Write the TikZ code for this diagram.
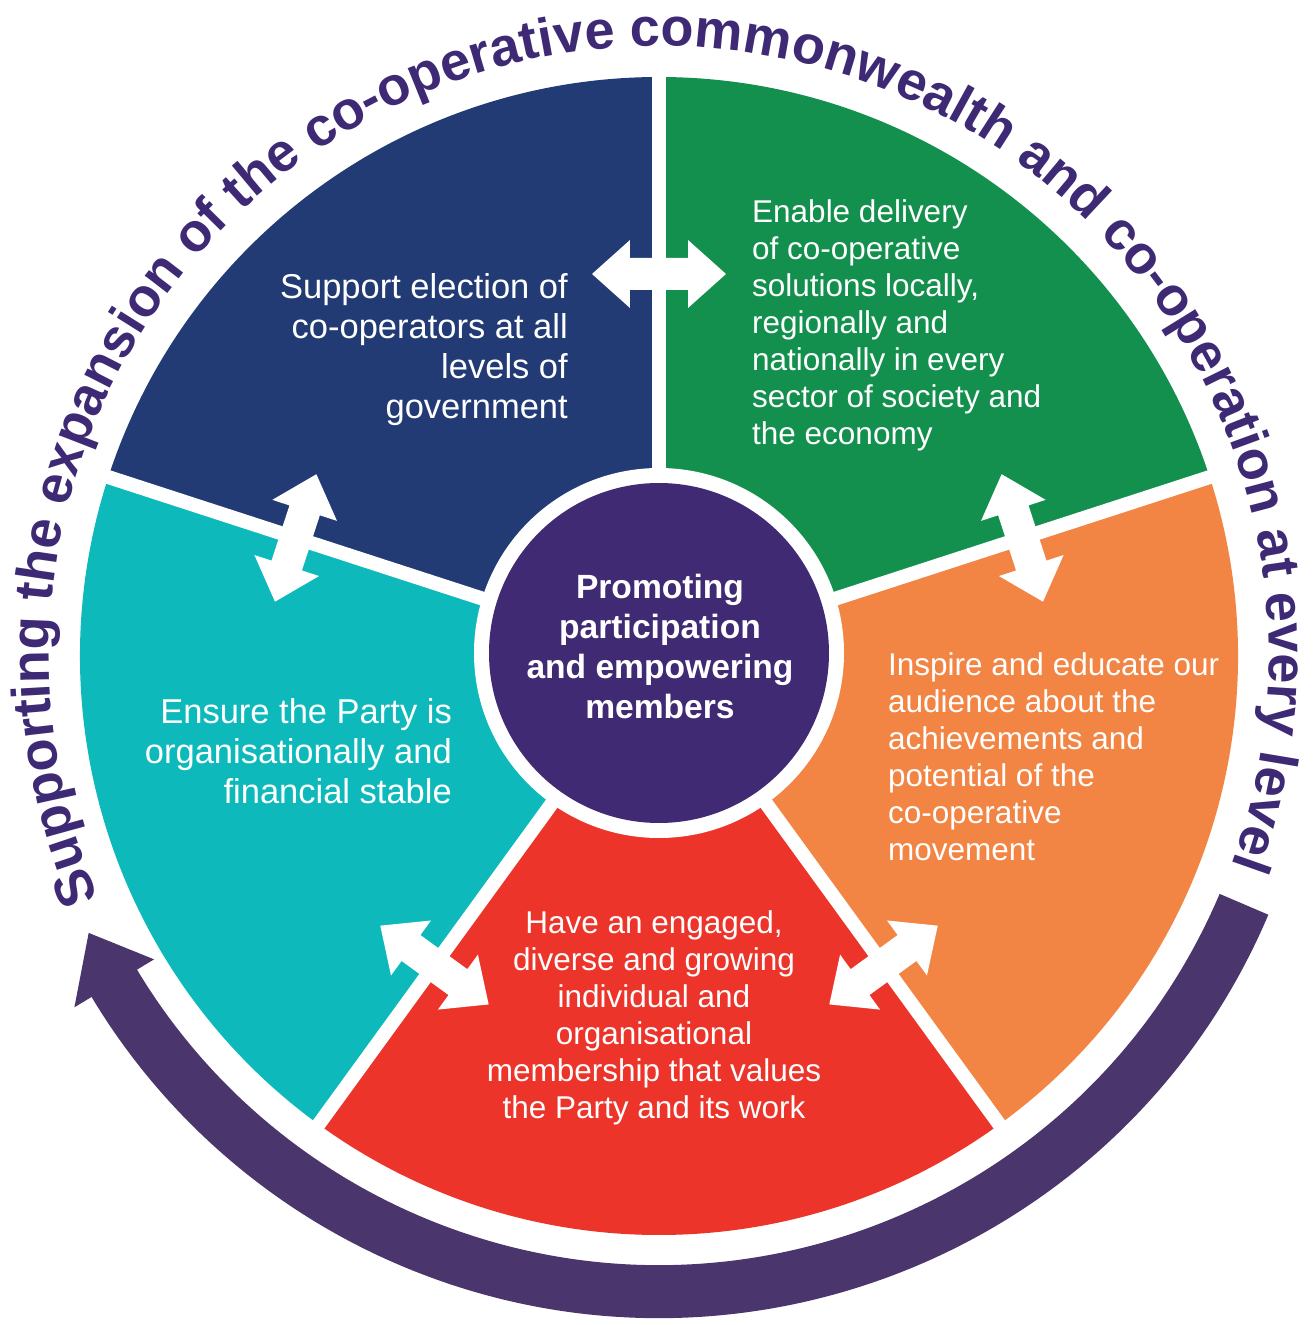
\documentclass[tikz,border=0pt]{standalone}
\usepackage{fontspec}
\setmainfont{Liberation Sans}
\usetikzlibrary{decorations.text}
\definecolor{segblue}{HTML}{223B75}
\definecolor{seggreen}{HTML}{13904D}
\definecolor{segorange}{HTML}{F28444}
\definecolor{segred}{HTML}{EC342A}
\definecolor{segteal}{HTML}{0DB9BA}
\definecolor{hubpurple}{HTML}{3F2A73}
\definecolor{bandpurple}{HTML}{4A356C}
\definecolor{textpurple}{HTML}{3E2A74}
\newcommand{\curvefont}{\fontsize{54}{54}\selectfont\bfseries}
\begin{document}
\begin{tikzpicture}[x=1pt,y=1pt,
  segtext/.style={text=white, inner sep=0pt, font=\fontsize{31.5}{37}\selectfont},
  segtextlarge/.style={text=white, inner sep=0pt, font=\fontsize{34.5}{40}\selectfont},
  hubtext/.style={text=white, inner sep=0pt, font=\fontsize{33.6}{40}\selectfont\bfseries},
  gapline/.style={white, line width=14pt},
  twoway/.style={fill=white},
  band/.style={bandpurple, line width=53pt},
]
\useasboundingbox (-659,-669) rectangle (653,656);
\fill[white] (-659,-669) rectangle (653,656);

% segments
\def\R{579}
\fill[segblue]   (0,0) -- (90:\R)  arc[start angle=90,  end angle=162, radius=\R] -- cycle;
\fill[segteal]   (0,0) -- (162:\R) arc[start angle=162, end angle=234, radius=\R] -- cycle;
\fill[segred]    (0,0) -- (234:\R) arc[start angle=234, end angle=306, radius=\R] -- cycle;
\fill[segorange] (0,0) -- (306:\R) arc[start angle=306, end angle=378, radius=\R] -- cycle;
\fill[seggreen]  (0,0) -- (18:\R)  arc[start angle=18,  end angle=90,  radius=\R] -- cycle;

% gaps
\foreach \a in {90,162,234,306,18} {
  \draw[gapline] (0,0) -- (\a:600);
}
\fill[white] (0,3) circle[radius=185];
\fill[hubpurple] (0,3) circle[radius=170];

% double arrows across the gaps
\foreach \a in {90,162,234,306,18} {
  \begin{scope}[shift={(\a:382)}, rotate=\a-90]
    \fill[twoway] (-67,0) -- (-29,34) -- (-29,16) -- (29,16) -- (29,34) -- (67,0)
      -- (29,-34) -- (29,-16) -- (-29,-16) -- (-29,-34) -- cycle;
  \end{scope}
}

% texts
\node[hubtext, align=center] (thub) at (1,9.5) {Promoting\\participation\\and empowering\\members};
\node[segtextlarge, align=right, anchor=east] (tblue) at (-91,306)
  {Support election of\\co-operators at all\\levels of\\government};
\node[segtext, align=left, anchor=west] (tgreen) at (93,331)
  {Enable delivery\\of co-operative\\solutions locally,\\regionally and\\nationally in every\\sector of society and\\the economy};
\node[segtext, align=left, anchor=west] (torange) at (229,-101)
  {Inspire and educate our\\audience about the\\achievements and\\potential of the\\co-operative\\movement};
\node[segtext, align=center] (tred) at (-5,-362)
  {Have an engaged,\\diverse and growing\\individual and\\organisational\\membership that values\\the Party and its work};
\node[segtextlarge, align=right, anchor=east] (tteal) at (-207,-95)
  {Ensure the Party is\\organisationally and\\financial stable};

% outer band arrow
\draw[band] (-23:635.5) arc[start angle=-23, end angle=-149.2, radius=635.5];
\fill[bandpurple] (-149:589) -- (-154.1:634) -- (-149:682) -- cycle;

% curved text
\path[decorate, decoration={text along path, text align=center,
  text={|\color{textpurple}\curvefont|Supporting the expansion of the co-operative commonwealth and co-operation at every level}}]
  (211.65:610) arc[start angle=211.65, end angle=-28.35, radius=610];
\end{tikzpicture}
\end{document}
